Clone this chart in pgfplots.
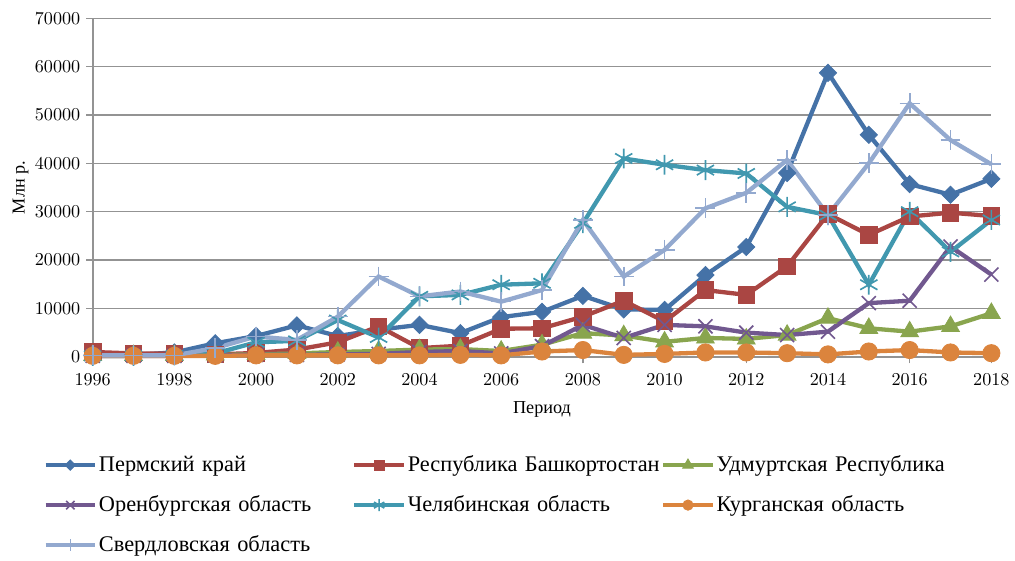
\documentclass[border=0pt]{standalone}
\usepackage{pgfplots}
\pgfplotsset{compat=1.18}
\usepackage{fontspec}
\setmainfont{Liberation Serif}

\definecolor{cPerm}{HTML}{4572A7}
\definecolor{cBash}{HTML}{AA4643}
\definecolor{cUdm}{HTML}{89A54E}
\definecolor{cOren}{HTML}{71588F}
\definecolor{cChel}{HTML}{4198AF}
\definecolor{cKurg}{HTML}{DB843D}
\definecolor{cSverd}{HTML}{93A9CF}

\begin{document}
\begin{tikzpicture}
\begin{axis}[
    width=543pt, height=204.6pt, scale only axis,
    xmin=1996, xmax=2018, ymin=0, ymax=70000,
    xtick={1996,1998,...,2018},
    ytick={0,10000,...,70000},
    scaled y ticks=false,
    xticklabel={\textrm{\pgfmathprintnumber[1000 sep={}]{\tick}}},
    yticklabel={\textrm{\pgfmathprintnumber[1000 sep={}]{\tick}}},
    tick label style={font=\fontsize{11}{13}\selectfont},
    xticklabel style={yshift=-2.5pt},
    label style={font=\fontsize{11}{13}\selectfont},
    xlabel={Период}, ylabel={Млн р.},
    xlabel style={yshift=-3pt},
    ylabel style={yshift=-3pt},
    ymajorgrids, grid style={gray!85, line width=0.8pt},
    axis x line*=bottom, axis y line*=left,
    axis line style={gray!85, line width=1pt, -},
    tick style={gray!85, line width=0.8pt},
    tick align=outside, major tick length=4pt,
    clip=false,
    legend columns=3,
    legend cell align=left,
    legend image code/.code={\draw[mark repeat=2, mark phase=2, every mark/.append style={scale=0.6}] plot coordinates {(0pt,0pt) (15pt,0pt) (30pt,0pt)};},
    legend style={
        at={(axis description cs:0,-0.272)}, anchor=north west, xshift=-33pt,
        draw=none, font=\fontsize{13.5}{16}\selectfont,
        row sep=9pt, column sep=0pt,
        nodes={text width=152pt, inner xsep=1pt},
    },
    every axis plot/.append style={line width=2.6pt},
]
% Пермский край
\addplot[color=cPerm, mark=diamond*, mark options={xscale=1.33, line width=0.5pt}, mark size=5.2pt] coordinates {
(1996,500) (1997,400) (1998,900) (1999,2800) (2000,4300) (2001,6500) (2002,4300) (2003,5600)
(2004,6600) (2005,4900) (2006,8200) (2007,9300) (2008,12600) (2009,9800) (2010,9700)
(2011,16900) (2012,22700) (2013,38000) (2014,58700) (2015,45900) (2016,35700) (2017,33500) (2018,36800)
};
% Республика Башкортостан
\addplot[color=cBash, mark=square*, mark options={line width=0.5pt}, mark size=5pt] coordinates {
(1996,1000) (1997,700) (1998,700) (1999,500) (2000,800) (2001,1500) (2002,3000) (2003,6300)
(2004,1800) (2005,2300) (2006,5800) (2007,5900) (2008,8300) (2009,11600) (2010,7300)
(2011,13800) (2012,12800) (2013,18700) (2014,29500) (2015,25200) (2016,29000) (2017,29800) (2018,29100)
};
% Удмуртская Республика
\addplot[color=cUdm, mark=triangle*, mark options={line width=0.5pt}, mark size=6.2pt] coordinates {
(1996,300) (1997,300) (1998,300) (1999,400) (2000,500) (2001,700) (2002,1000) (2003,1200)
(2004,1500) (2005,1600) (2006,1200) (2007,2500) (2008,4900) (2009,4400) (2010,3100)
(2011,3900) (2012,3700) (2013,4500) (2014,8000) (2015,5900) (2016,5200) (2017,6300) (2018,9000)
};
% Оренбургская область
\addplot[color=cOren, mark=x, mark size=6pt, mark options={line width=1pt}] coordinates {
(1996,200) (1997,200) (1998,200) (1999,300) (2000,400) (2001,400) (2002,500) (2003,600)
(2004,1000) (2005,1200) (2006,700) (2007,2200) (2008,6600) (2009,3900) (2010,6600)
(2011,6300) (2012,5000) (2013,4500) (2014,5200) (2015,11100) (2016,11600) (2017,22800) (2018,17000)
};
% Челябинская область
\addplot[color=cChel, mark=asterisk, mark size=6pt, mark options={line width=1pt}] coordinates {
(1996,200) (1997,200) (1998,300) (1999,700) (2000,3000) (2001,3300) (2002,7600) (2003,4000)
(2004,12500) (2005,12800) (2006,14900) (2007,15200) (2008,27600) (2009,41000) (2010,39700)
(2011,38600) (2012,37900) (2013,31000) (2014,29300) (2015,14900) (2016,30000) (2017,21700) (2018,28300)
};
% Курганская область
\addplot[color=cKurg, mark=*, mark options={line width=0.5pt}, mark size=5.2pt] coordinates {
(1996,200) (1997,200) (1998,200) (1999,200) (2000,300) (2001,300) (2002,300) (2003,300)
(2004,300) (2005,400) (2006,300) (2007,1100) (2008,1400) (2009,400) (2010,600)
(2011,900) (2012,900) (2013,750) (2014,500) (2015,1100) (2016,1400) (2017,900) (2018,750)
};
% Свердловская область
\addplot[color=cSverd, mark=+, mark size=6pt, mark options={line width=1pt}] coordinates {
(1996,300) (1997,300) (1998,300) (1999,1800) (2000,4200) (2001,3500) (2002,8300) (2003,16600)
(2004,12500) (2005,13500) (2006,11400) (2007,13800) (2008,28300) (2009,16600) (2010,22100)
(2011,30700) (2012,33900) (2013,40700) (2014,29300) (2015,40000) (2016,52400) (2017,44800) (2018,39800)
};
\legend{Пермский край, \mbox{Республика Башкортостан}, Удмуртская Республика,
        Оренбургская область, Челябинская область, Курганская область,
        Свердловская область}
% empty room above and left of the plot, as in the original
\path (rel axis cs:0,1) ++(0pt,11pt);
\path (rel axis cs:0,0.5) ++(-56pt,0pt);
\end{axis}
\end{tikzpicture}
\end{document}
